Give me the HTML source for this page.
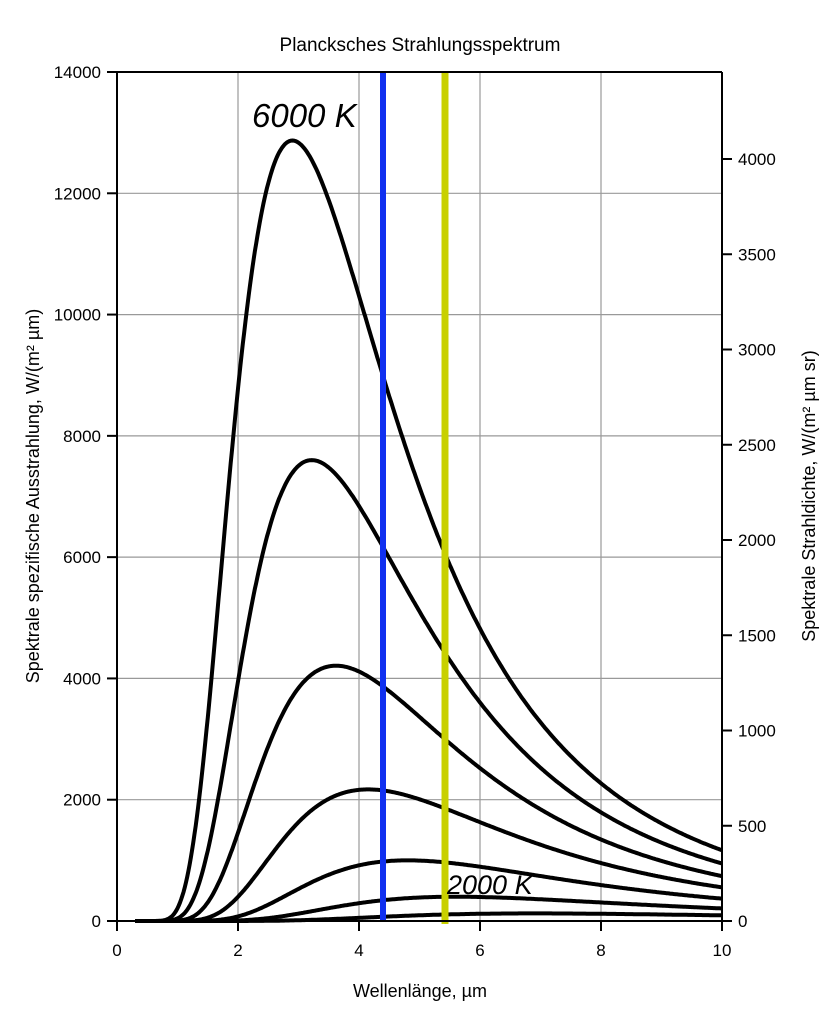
<!DOCTYPE html>
<html><head><meta charset="utf-8"><style>
body{margin:0;background:#fff;}
svg{display:block;font-family:"Liberation Sans",sans-serif;}
</style></head><body>
<svg id="s" width="840" height="1024" viewBox="0 0 840 1024" xmlns="http://www.w3.org/2000/svg">
<rect width="840" height="1024" fill="#fff"/>
<text id="ttl" x="420" y="51" font-size="19" text-anchor="middle">Plancksches Strahlungsspektrum</text>
<g stroke="#999" stroke-width="1.2">
<line x1="238" y1="72" x2="238" y2="921"/><line x1="359" y1="72" x2="359" y2="921"/>
<line x1="480" y1="72" x2="480" y2="921"/><line x1="601" y1="72" x2="601" y2="921"/>
<line x1="117" y1="193.3" x2="722" y2="193.3"/><line x1="117" y1="314.6" x2="722" y2="314.6"/>
<line x1="117" y1="435.9" x2="722" y2="435.9"/><line x1="117" y1="557.1" x2="722" y2="557.1"/>
<line x1="117" y1="678.4" x2="722" y2="678.4"/><line x1="117" y1="799.7" x2="722" y2="799.7"/>
</g>
<g id="curves" fill="none" stroke="#000" stroke-width="4" stroke-linejoin="round"></g>
<line x1="383" y1="72" x2="383" y2="921" stroke="#1030f0" stroke-width="6"/>
<line x1="445" y1="72" x2="445" y2="924" stroke="#c8d000" stroke-width="7"/>
<g stroke="#000" stroke-width="2" fill="none">
<line x1="117" y1="72" x2="117" y2="921"/>
<line x1="722" y1="72" x2="722" y2="921"/>
<line x1="107" y1="921" x2="732" y2="921"/>
<line x1="117" y1="72" x2="722" y2="72"/>
</g>
<g id="ticks" stroke="#000" stroke-width="2"></g>
<g id="lab" font-size="17"></g>
<text x="252" y="127" font-size="33" font-style="italic">6000 K</text>
<text x="447" y="894" font-size="27" font-style="italic">2000 K</text>
<text x="420" y="997" font-size="18" text-anchor="middle">Wellenlänge, µm</text>
<text transform="translate(39,496) rotate(-90)" font-size="18" text-anchor="middle">Spektrale spezifische Ausstrahlung, W/(m² µm)</text>
<text transform="translate(815,496) rotate(-90)" font-size="18" text-anchor="middle">Spektrale Strahldichte, W/(m² µm sr)</text>
</svg>
<script>
var NS="http://www.w3.org/2000/svg";
function X(v){return 117+v*60.5;}function Y(v){return 921-v*849/14000;}
var c=4.965,E=Math.exp(c)-1;
var P=[[2.9,12870],[3.22,7600],[3.62,4210],[4.15,2170],[4.8,1000],[5.6,400],[6.9,125]];
var g=document.getElementById('curves');
P.forEach(function(p){var d="";for(var x=0.3;x<=10.001;x+=0.02){var r=p[0]/x;var v=p[1]*Math.pow(r,5)*E/(Math.exp(c*r)-1);d+=(d?"L":"M")+X(x).toFixed(1)+","+Y(v).toFixed(1);}
var e=document.createElementNS(NS,'path');e.setAttribute('d',d);g.appendChild(e);});
var t=document.getElementById('ticks'),l=document.getElementById('lab');
function ln(a,b,c2,d){var e=document.createElementNS(NS,'line');e.setAttribute('x1',a);e.setAttribute('y1',b);e.setAttribute('x2',c2);e.setAttribute('y2',d);t.appendChild(e);}
function tx(x,y,s,a){var e=document.createElementNS(NS,'text');e.setAttribute('x',x);e.setAttribute('y',y);e.setAttribute('text-anchor',a);e.textContent=s;l.appendChild(e);}
for(var i=0;i<=10;i+=2){ln(X(i),921,X(i),931);tx(X(i),956,i,'middle');}
for(var v=0;v<=14000;v+=2000){ln(107,Y(v),117,Y(v));tx(101,Y(v)+6,v,'end');}
for(var v=0;v<=4000;v+=500){var y=921-v*762/4000;ln(722,y,732,y);tx(738,y+6,v,'start');}
</script>
</body></html>
